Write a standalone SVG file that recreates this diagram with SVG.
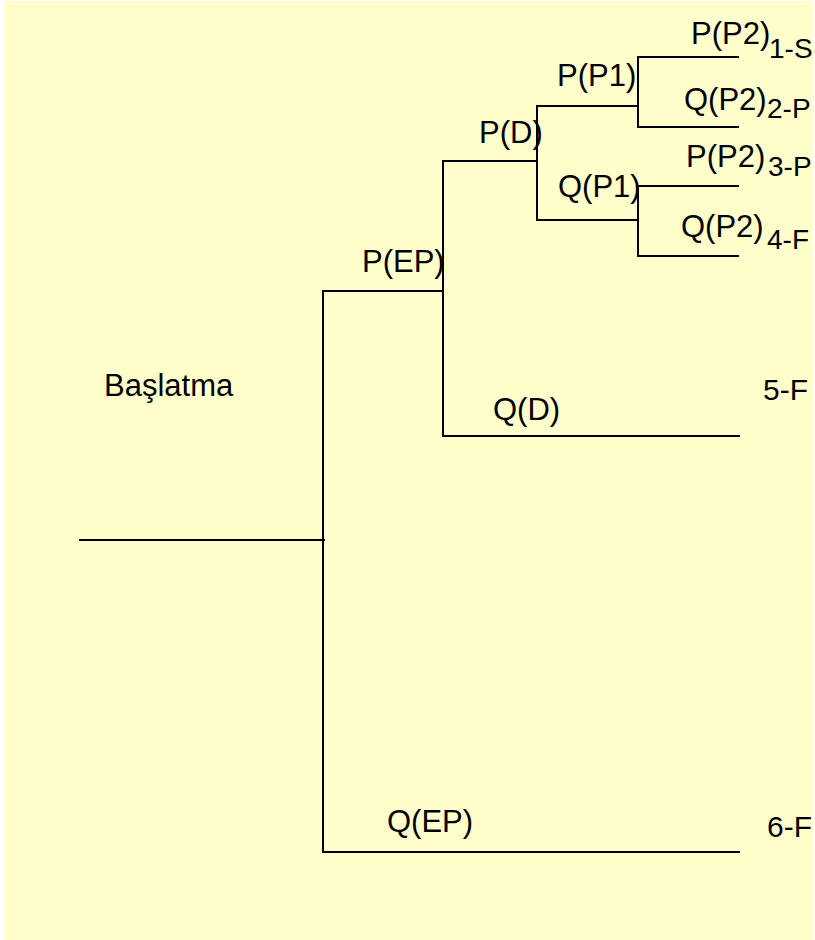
<svg xmlns="http://www.w3.org/2000/svg" width="815" height="940" viewBox="0 0 815 940">
<style>
.ln{stroke:#000;stroke-width:2;fill:none}
.t{font-family:"Liberation Sans",Arial,sans-serif;font-size:31px;fill:#000}
.s{font-family:"Liberation Sans",Arial,sans-serif;font-size:28px;fill:#000}
.e{font-family:"Liberation Sans",Arial,sans-serif;font-size:30px;fill:#000}
</style>
<rect x="0" y="0" width="815" height="940" fill="#fff"/>
<rect x="4" y="1" width="809" height="939" fill="#FFFFCC"/>
<g id="connectors">
<line class="ln" x1="79" y1="540" x2="325" y2="540"/>
<line class="ln" x1="323" y1="291" x2="323" y2="853"/>
<line class="ln" x1="322" y1="291" x2="444" y2="291"/>
<line class="ln" x1="322" y1="852" x2="740" y2="852"/>
<line class="ln" x1="443" y1="161" x2="443" y2="437"/>
<line class="ln" x1="442" y1="436" x2="740" y2="436"/>
<line class="ln" x1="442" y1="161" x2="538" y2="161"/>
<line class="ln" x1="537" y1="106" x2="537" y2="221"/>
<line class="ln" x1="536" y1="106" x2="639" y2="106"/>
<line class="ln" x1="536" y1="220" x2="639" y2="220"/>
<line class="ln" x1="638" y1="57" x2="638" y2="128"/>
<line class="ln" x1="638" y1="186" x2="638" y2="257"/>
<line class="ln" x1="637" y1="57" x2="739" y2="57"/>
<line class="ln" x1="637" y1="127" x2="739" y2="127"/>
<line class="ln" x1="637" y1="186" x2="739" y2="186"/>
<line class="ln" x1="637" y1="256" x2="739" y2="256"/>
</g>
<g id="start"><text class="t" x="104" y="396">Başlatma</text></g>
<g id="pep"><text class="t" x="362" y="272">P(EP)</text></g>
<g id="qep"><text class="t" x="387" y="832">Q(EP)</text></g>
<g id="pd"><text class="t" x="479" y="143">P(D)</text></g>
<g id="qd"><text class="t" x="493" y="420">Q(D)</text></g>
<g id="pp1"><text class="t" x="557" y="86">P(P1)</text></g>
<g id="qp1"><text class="t" x="558" y="197">Q(P1)</text></g>
<g id="o1"><text class="t" x="691" y="44">P(P2)</text><text class="s" x="769" y="58">1-S</text></g>
<g id="o2"><text class="t" x="684" y="110">Q(P2)</text><text class="s" x="767" y="118">2-P</text></g>
<g id="o3"><text class="t" x="686" y="167">P(P2)</text><text class="s" x="768" y="176">3-P</text></g>
<g id="o4"><text class="t" x="681" y="237">Q(P2)</text><text class="s" x="767" y="249">4-F</text></g>
<g id="o5"><text class="e" x="763" y="400">5-F</text></g>
<g id="o6"><text class="e" x="767" y="837">6-F</text></g>
</svg>
